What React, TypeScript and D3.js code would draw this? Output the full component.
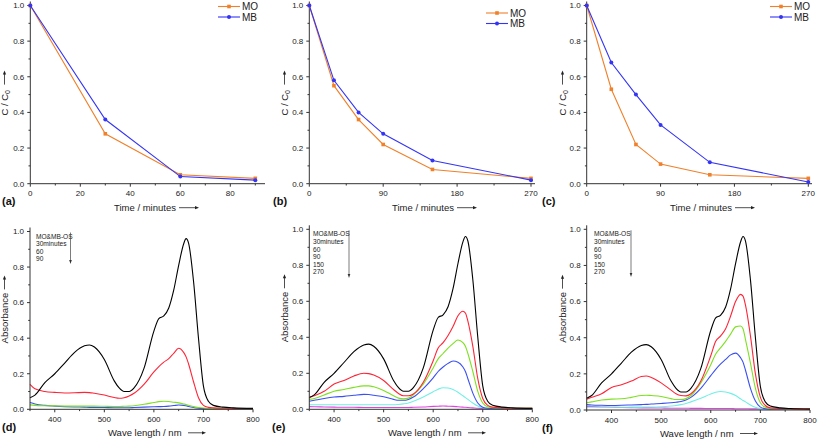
import React from 'react';
import * as d3 from 'd3';

const FONT = "'Liberation Sans', Arial, Helvetica, sans-serif";

// ---- top row: relative concentration vs time ----
const timeA = [0, 30, 60, 90];
const moA = [1.0, 0.28, 0.05, 0.03];
const mbA = [1.0, 0.36, 0.04, 0.02];
const timeBC = [0, 30, 60, 90, 150, 270];
const moB = [1.0, 0.55, 0.36, 0.22, 0.08, 0.03];
const mbB = [1.0, 0.58, 0.40, 0.28, 0.13, 0.02];
const moC = [1.0, 0.53, 0.22, 0.11, 0.05, 0.03];
const mbC = [1.0, 0.68, 0.50, 0.33, 0.12, 0.01];
const ticksA = [0, 20, 40, 60, 80];
const minorA = [10, 30, 50, 70, 90];
const ticksBC = [0, 90, 180, 270];
const minorBC = [45, 135, 225];
const yTicks = [0, 0.2, 0.4, 0.6, 0.8, 1.0];
const yMinor = [0.1, 0.3, 0.5, 0.7, 0.9];
const waveTicks = [400, 500, 600, 700, 800];
const waveMinor = [350, 450, 550, 650, 750];
const seriesNames = ['MO', 'MB'];

// ---- bottom row: UV-vis spectra ----
const wl = [350, 360, 380, 400, 420, 440, 460, 470, 480, 500, 520, 530, 540, 550, 560, 580, 600, 610, 620, 630, 640, 650, 660, 665, 670, 680, 690, 700, 710, 720, 740, 760, 800];
const black0 = [0.065, 0.08, 0.15, 0.20, 0.26, 0.32, 0.357, 0.362, 0.35, 0.28, 0.16, 0.12, 0.10, 0.10, 0.12, 0.23, 0.44, 0.51, 0.525, 0.57, 0.67, 0.81, 0.93, 0.96, 0.935, 0.72, 0.40, 0.13, 0.045, 0.022, 0.012, 0.008, 0.005];
const d30 = [0.14, 0.115, 0.10, 0.095, 0.092, 0.093, 0.095, 0.094, 0.09, 0.08, 0.066, 0.062, 0.065, 0.075, 0.09, 0.14, 0.21, 0.24, 0.265, 0.285, 0.315, 0.343, 0.32, 0.295, 0.255, 0.155, 0.065, 0.022, 0.011, 0.008, 0.006, 0.005, 0.004];
const d60 = [0.025, 0.022, 0.02, 0.019, 0.018, 0.018, 0.018, 0.018, 0.018, 0.017, 0.016, 0.016, 0.017, 0.018, 0.02, 0.028, 0.038, 0.043, 0.045, 0.044, 0.04, 0.036, 0.03, 0.027, 0.023, 0.015, 0.01, 0.007, 0.006, 0.005, 0.005, 0.004, 0.004];
const d90 = [0.038, 0.03, 0.022, 0.018, 0.015, 0.013, 0.012, 0.011, 0.011, 0.01, 0.009, 0.009, 0.009, 0.009, 0.01, 0.012, 0.014, 0.015, 0.016, 0.018, 0.021, 0.024, 0.022, 0.02, 0.016, 0.01, 0.006, 0.004, 0.003, 0.003, 0.003, 0.003, 0.003];
const e30 = [0.065, 0.075, 0.10, 0.14, 0.16, 0.185, 0.20, 0.198, 0.19, 0.16, 0.11, 0.088, 0.075, 0.075, 0.085, 0.15, 0.27, 0.34, 0.37, 0.41, 0.46, 0.52, 0.545, 0.535, 0.49, 0.35, 0.17, 0.06, 0.022, 0.012, 0.008, 0.006, 0.005];
const e60 = [0.055, 0.06, 0.08, 0.10, 0.11, 0.122, 0.13, 0.13, 0.125, 0.105, 0.075, 0.062, 0.058, 0.062, 0.08, 0.14, 0.23, 0.28, 0.31, 0.34, 0.365, 0.385, 0.37, 0.35, 0.31, 0.21, 0.10, 0.035, 0.014, 0.009, 0.007, 0.006, 0.005];
const e90 = [0.045, 0.05, 0.06, 0.068, 0.072, 0.078, 0.083, 0.082, 0.078, 0.07, 0.055, 0.05, 0.05, 0.055, 0.068, 0.115, 0.175, 0.21, 0.235, 0.255, 0.268, 0.262, 0.235, 0.21, 0.17, 0.09, 0.035, 0.012, 0.006, 0.005, 0.004, 0.004, 0.004];
const e150 = [0.025, 0.025, 0.025, 0.025, 0.025, 0.025, 0.025, 0.025, 0.025, 0.025, 0.025, 0.027, 0.03, 0.035, 0.045, 0.068, 0.098, 0.112, 0.12, 0.118, 0.11, 0.095, 0.075, 0.065, 0.055, 0.035, 0.018, 0.009, 0.005, 0.004, 0.003, 0.003, 0.003];
const e270 = [0.015, 0.014, 0.013, 0.012, 0.011, 0.011, 0.01, 0.01, 0.01, 0.01, 0.01, 0.01, 0.01, 0.01, 0.011, 0.013, 0.016, 0.017, 0.018, 0.017, 0.016, 0.014, 0.012, 0.011, 0.01, 0.008, 0.006, 0.005, 0.004, 0.004, 0.003, 0.003, 0.003];
const f30 = [0.06, 0.07, 0.09, 0.125, 0.14, 0.16, 0.185, 0.188, 0.18, 0.15, 0.11, 0.09, 0.08, 0.078, 0.09, 0.16, 0.30, 0.38, 0.41, 0.45, 0.52, 0.60, 0.64, 0.63, 0.58, 0.41, 0.20, 0.07, 0.025, 0.012, 0.008, 0.006, 0.005];
const f60 = [0.04, 0.045, 0.055, 0.06, 0.062, 0.07, 0.08, 0.082, 0.08, 0.075, 0.063, 0.058, 0.058, 0.063, 0.08, 0.15, 0.25, 0.31, 0.345, 0.38, 0.42, 0.46, 0.465, 0.45, 0.39, 0.26, 0.12, 0.04, 0.015, 0.009, 0.007, 0.006, 0.005];
const f90 = [0.03, 0.028, 0.026, 0.025, 0.026, 0.028, 0.03, 0.031, 0.033, 0.036, 0.04, 0.043, 0.047, 0.055, 0.07, 0.12, 0.19, 0.225, 0.255, 0.28, 0.305, 0.315, 0.29, 0.265, 0.22, 0.12, 0.05, 0.016, 0.007, 0.005, 0.004, 0.004, 0.004];
const f150 = [0.015, 0.015, 0.015, 0.015, 0.015, 0.016, 0.016, 0.017, 0.017, 0.018, 0.022, 0.025, 0.03, 0.036, 0.045, 0.065, 0.088, 0.098, 0.102, 0.1, 0.092, 0.08, 0.062, 0.053, 0.045, 0.028, 0.015, 0.008, 0.005, 0.004, 0.003, 0.003, 0.003];
const f270 = [0.02, 0.019, 0.017, 0.015, 0.014, 0.013, 0.012, 0.012, 0.012, 0.011, 0.01, 0.01, 0.01, 0.01, 0.009, 0.009, 0.008, 0.008, 0.008, 0.008, 0.008, 0.007, 0.007, 0.007, 0.007, 0.006, 0.006, 0.006, 0.005, 0.005, 0.005, 0.005, 0.005];
const annotD = ['MO&MB-OS', '30minutes', '60', '90'];
const annotEF = ['MO&MB-OS', '30minutes', '60', '90', '150', '270'];

const C_MO = '#f0802a';
const C_MB = '#3434f4';
const specColors = ['#000000', '#ff2436', '#7ee020', '#3a50f0', '#6ff0e6', '#e044e0'];

type AxisCfg = {
  x: d3.ScaleLinear<number, number>;
  y: d3.ScaleLinear<number, number>;
  xTicks: number[];
  xMinor: number[];
  xEnd: number;
};

function Axes({ x, y, xTicks, xMinor, xEnd }: AxisCfg) {
  const x0 = x.range()[0];
  const y0 = y(0);
  const yTop = y(1.0) - 4;
  return (
    <g fontFamily={FONT} fill="#222">
      <line x1={x0} x2={x0} y1={y0} y2={yTop} stroke="#333" strokeWidth={1} />
      <line x1={x0} x2={xEnd} y1={y0} y2={y0} stroke="#333" strokeWidth={1} />
      {yTicks.map((t) => (
        <g key={'y' + t}>
          <line x1={x0 - 3} x2={x0} y1={y(t)} y2={y(t)} stroke="#333" />
          <text x={x0 - 6} y={y(t) + 2.8} fontSize={8} textAnchor="end">{t.toFixed(1)}</text>
        </g>
      ))}
      {yMinor.map((t) => (
        <line key={'ym' + t} x1={x0 - 1.8} x2={x0} y1={y(t)} y2={y(t)} stroke="#333" />
      ))}
      {xTicks.map((t) => (
        <g key={'x' + t}>
          <line x1={x(t)} x2={x(t)} y1={y0} y2={y0 + 3} stroke="#333" />
          <text x={x(t)} y={y0 + 12.5} fontSize={8} textAnchor="middle">{t}</text>
        </g>
      ))}
      {xMinor.map((t) => (
        <line key={'xm' + t} x1={x(t)} x2={x(t)} y1={y0} y2={y0 + 1.8} stroke="#333" />
      ))}
    </g>
  );
}

function Arrow({ x, y, len }: { x: number; y: number; len: number }) {
  return (
    <g>
      <line x1={x} x2={x + len - 3} y1={y} y2={y} stroke="#222" strokeWidth={0.8} />
      <path d={`M${x + len},${y} L${x + len - 4},${y - 1.6} L${x + len - 4},${y + 1.6} Z`} fill="#222" />
    </g>
  );
}

function TopPanel({ letter, times, mo, mb, xDomain, xRange, xTicks, xMinor, xEnd, legendX, legendY, titleCx, yTitleX, letterX }: any) {
  const x = d3.scaleLinear().domain(xDomain).range(xRange);
  const y = d3.scaleLinear().domain([0, 1]).range([183.7, 5.5]);
  const line = d3.line<number>().x((_, i) => x(times[i])).y((d) => y(d));
  const series = [
    { name: seriesNames[0], vals: mo, color: C_MO, sq: true },
    { name: seriesNames[1], vals: mb, color: C_MB, sq: false },
  ];
  const y0 = y(0);
  return (
    <g>
      <Axes x={x} y={y} xTicks={xTicks} xMinor={xMinor} xEnd={xEnd} />
      {series.map((s) => (
        <g key={s.name}>
          <path d={line(s.vals) || ''} fill="none" stroke={s.color} strokeWidth={1.1} />
          {s.vals.map((v: number, i: number) =>
            s.sq ? (
              <rect key={i} x={x(times[i]) - 1.8} y={y(v) - 1.8} width={3.6} height={3.6} fill={s.color} />
            ) : (
              <circle key={i} cx={x(times[i])} cy={y(v)} r={2} fill={s.color} />
            )
          )}
        </g>
      ))}
      {series.map((s, i) => {
        const ly = legendY + i * 10.5;
        return (
          <g key={'lg' + s.name}>
            <line x1={legendX} x2={legendX + 22} y1={ly} y2={ly} stroke={s.color} strokeWidth={1.1} />
            {s.sq ? (
              <rect x={legendX + 11 - 1.8} y={ly - 1.8} width={3.6} height={3.6} fill={s.color} />
            ) : (
              <circle cx={legendX + 11} cy={ly} r={2} fill={s.color} />
            )}
            <text x={legendX + 24} y={ly + 3.5} fontSize={10} fontFamily={FONT} fill="#222">{s.name}</text>
          </g>
        );
      })}
      <text x={letterX} y={y0 + 21} fontSize={11} fontFamily={FONT} fill="#111" fontWeight="bold">{letter}</text>
      <text x={titleCx - 36} y={y0 + 27} fontSize={9.5} fontFamily={FONT} fill="#222">Time / minutes</text>
      <Arrow x={titleCx + 29} y={y0 + 24} len={20} />
      <g transform={`translate(${yTitleX},${(y(0) + y(1)) / 2 - 1}) rotate(-90)`}>
        <text x={-22} y={0} fontSize={9.5} fontFamily={FONT} fill="#222">
          C / C<tspan fontSize={7} dy={2}>0</tspan>
        </text>
        <Arrow x={9} y={-3.5} len={14} />
      </g>
    </g>
  );
}

function BottomPanel({ letter, curves, xRange, yRange, annot, annotX, arrowX, arrowY1, titleCx, yTitleX, letterX }: any) {
  const x = d3.scaleLinear().domain([350, 800]).range(xRange);
  const y = d3.scaleLinear().domain([0, 1]).range(yRange);
  const line = d3
    .line<number>()
    .x((_, i) => x(wl[i]))
    .y((d) => y(d))
    .curve(d3.curveMonotoneX);
  const y0 = y(0);
  const yTop = y(1);
  return (
    <g>
      {curves
        .slice()
        .reverse()
        .map((c: number[], ri: number) => {
          const i = curves.length - 1 - ri;
          return <path key={i} d={line(c) || ''} fill="none" stroke={specColors[i]} strokeWidth={1.1} />;
        })}
      <Axes x={x} y={y} xTicks={waveTicks} xMinor={waveMinor} xEnd={xRange[1]} />
      {annot.map((t: string, i: number) => (
        <text key={t} x={annotX} y={yTop + 7 + i * 7.6} fontSize={6.6} fontFamily={FONT} fill="#222">{t}</text>
      ))}
      <line x1={arrowX} x2={arrowX} y1={yTop + 1} y2={arrowY1 - 3} stroke="#444" strokeWidth={0.7} />
      <path d={`M${arrowX},${arrowY1} L${arrowX - 1.3},${arrowY1 - 4} L${arrowX + 1.3},${arrowY1 - 4} Z`} fill="#333" />
      <text x={letterX} y={y0 + 21.5} fontSize={11} fontFamily={FONT} fill="#111" fontWeight="bold">{letter}</text>
      <text x={titleCx - 42} y={y0 + 26.5} fontSize={9.5} fontFamily={FONT} fill="#222">Wave length / nm</text>
      <Arrow x={titleCx + 38} y={y0 + 23.5} len={18} />
      <g transform={`translate(${yTitleX},${(y0 + yTop) / 2 - 7}) rotate(-90)`}>
        <text x={-30} y={0} fontSize={9.5} fontFamily={FONT} fill="#222">Absorbance</text>
        <Arrow x={24} y={-3.5} len={14} />
      </g>
    </g>
  );
}

export default function App() {
  return (
    <svg width={817} height={440} viewBox="0 0 817 440" style={{ display: 'block', position: 'absolute', left: 0, top: 0, background: '#fff' }}>
      <rect width={817} height={440} fill="#fff" />
      <TopPanel letter="(a)" times={timeA} mo={moA} mb={mbA} xDomain={[0, 90]} xRange={[30.3, 255.3]} xTicks={ticksA} xMinor={minorA} xEnd={265} legendX={218} legendY={6.5} titleCx={150} yTitleX={8} letterX={2} />
      <TopPanel letter="(b)" times={timeBC} mo={moB} mb={mbB} xDomain={[0, 270]} xRange={[309.3, 531]} xTicks={ticksBC} xMinor={minorBC} xEnd={535} legendX={486} legendY={13} titleCx={428} yTitleX={288} letterX={273} />
      <TopPanel letter="(c)" times={timeBC} mo={moC} mb={mbC} xDomain={[0, 270]} xRange={[586.7, 808.3]} xTicks={ticksBC} xMinor={minorBC} xEnd={812} legendX={770} legendY={6.5} titleCx={706} yTitleX={566} letterX={542} />
      <BottomPanel letter="(d)" curves={[black0, d30, d60, d90]} xRange={[30, 253]} yRange={[409.3, 231.5]} annot={annotD} annotX={36} arrowX={70.5} arrowY1={264} titleCx={150} yTitleX={8} letterX={2} />
      <BottomPanel letter="(e)" curves={[black0, e30, e60, e90, e150, e270]} xRange={[309.3, 532.3]} yRange={[409.3, 229.3]} annot={annotEF} annotX={313} arrowX={349} arrowY1={278} titleCx={430} yTitleX={288} letterX={272} />
      <BottomPanel letter="(f)" curves={[black0, f30, f60, f90, f150, f270]} xRange={[586.7, 810]} yRange={[410, 229.3]} annot={annotEF} annotX={594} arrowX={631} arrowY1={277} titleCx={702} yTitleX={566} letterX={542} />
    </svg>
  );
}
